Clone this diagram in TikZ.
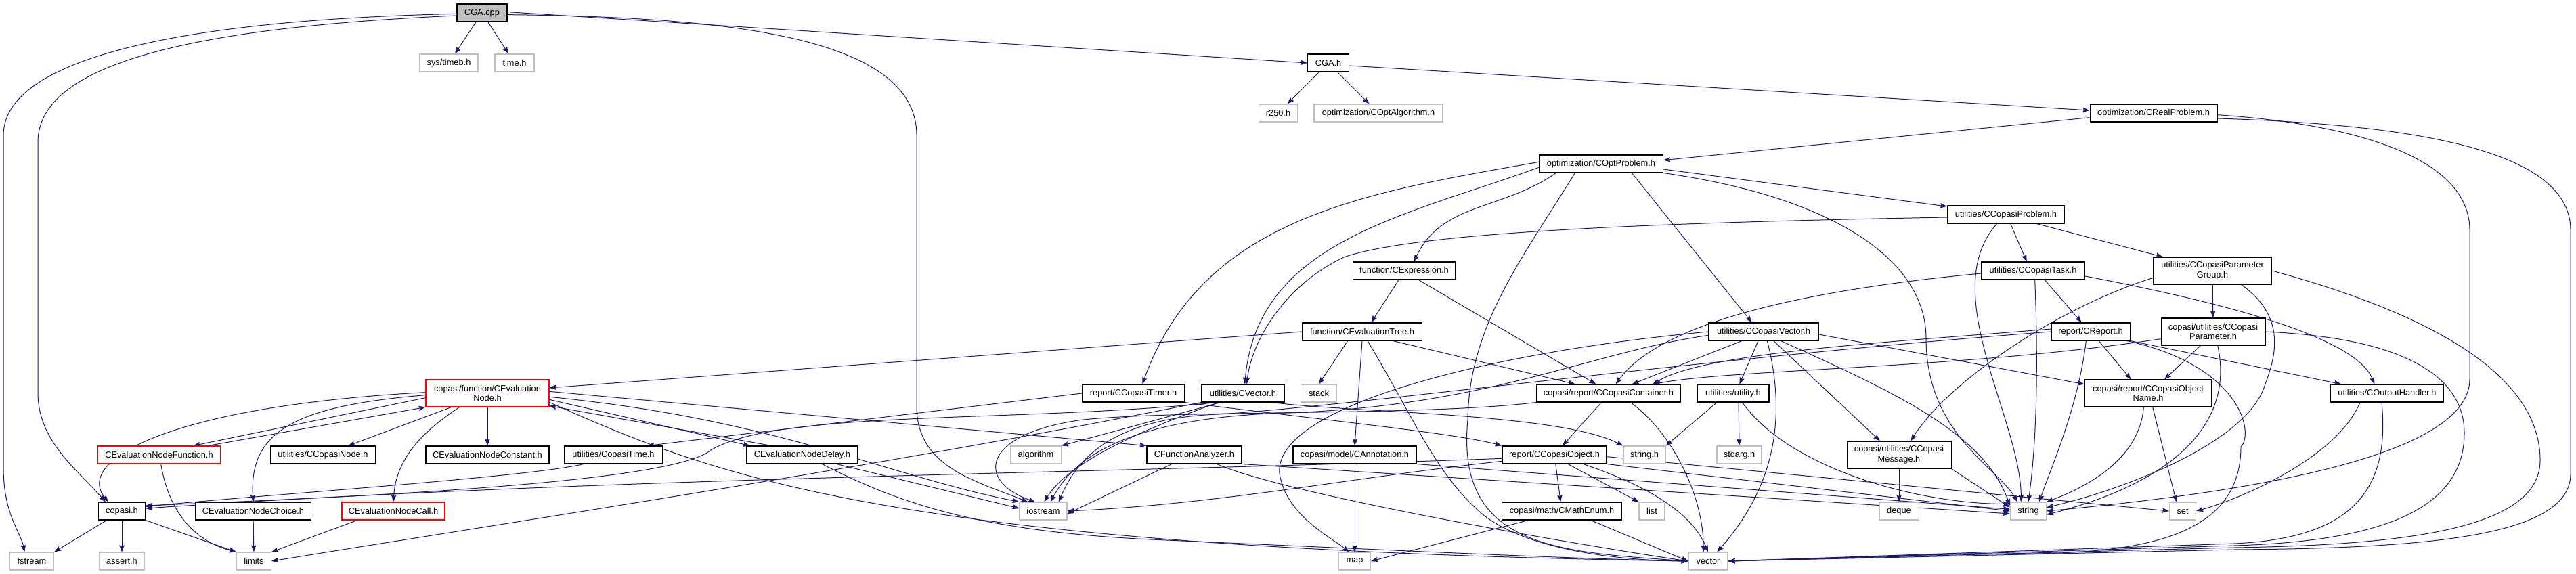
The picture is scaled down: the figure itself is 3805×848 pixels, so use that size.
\documentclass[tikz,border=0pt]{standalone}
\usepackage{fontspec}
\setmainfont{Liberation Sans}
\usepackage{xcolor}
\usepackage{tikz}
\usetikzlibrary{arrows.meta, backgrounds}
\definecolor{edgeBlue}{RGB}{25, 25, 112}
\definecolor{sysGray}{RGB}{191, 191, 191}
\tikzset{
  filenode/.style={
    rectangle, draw=black, fill=white, line width=0.8pt,
    minimum height=19.5pt, inner xsep=1pt, inner ysep=1.5pt,
    align=center, font=\fontsize{9.6}{11}\selectfont
  },
  sysnode/.style={filenode, draw=sysGray},
  rednode/.style={filenode, draw=red},
  mainnode/.style={filenode, fill=sysGray},
  twoline/.style={minimum height=30pt},
  bw/.style={minimum width=#1*0.75pt},
  dep/.style={
    -{Stealth[length=7.5pt,width=5.5pt,inset=1pt]},
    line width=0.75pt, color=edgeBlue
  }
}

\begin{document}
\begin{tikzpicture}[x=0.75pt, y=-0.75pt]

  \useasboundingbox (0,0) rectangle (3805,848);

  % top rows
  \node[mainnode, bw=74] (cgacpp) at (712,19) {CGA.cpp};
  \node[sysnode, bw=86] (timeb) at (663,93) {sys/timeb.h};
  \node[sysnode, bw=58] (timeh) at (760,93) {time.h};
  \node[filenode, bw=61] (cgah) at (1962,93) {CGA.h};
  \node[sysnode, bw=57] (r250) at (1888,167) {r250.h};
  \node[sysnode, bw=190] (optalg) at (2036,167) {optimization/COptAlgorithm.h};
  \node[filenode, bw=188] (realprob) at (3181,167) {optimization/CRealProblem.h};
  \node[filenode, bw=183] (optprob) at (2365,242) {optimization/COptProblem.h};
  \node[filenode, bw=173] (cprob) at (2963,317) {utilities/CCopasiProblem.h};
  \node[filenode, bw=151] (expr) at (2074,400) {function/CExpression.h};
  \node[filenode, bw=153] (ctask) at (3003,400) {utilities/CCopasiTask.h};
  \node[filenode, bw=175, twoline] (pgroup) at (3268,400) {utilities/CCopasiParameter\\Group.h};
  \node[filenode, bw=177] (evaltree) at (2012,490) {function/CEvaluationTree.h};
  \node[filenode, bw=162] (cvec) at (2605,490) {utilities/CCopasiVector.h};
  \node[filenode, bw=116] (report) at (3088,490) {report/CReport.h};
  \node[filenode, bw=154, twoline] (param) at (3269,490) {copasi/utilities/CCopasi\\Parameter.h};

  % middle rows
  \node[rednode, bw=182, twoline] (evalnode) at (720,581) {copasi/function/CEvaluation\\Node.h};
  \node[filenode, bw=151] (timer) at (1674,581) {report/CCopasiTimer.h};
  \node[filenode, bw=123] (vectorh) at (1836,581) {utilities/CVector.h};
  \node[sysnode, bw=53] (stack) at (1948,581) {stack};
  \node[filenode, bw=213] (container) at (2376,581) {copasi/report/CCopasiContainer.h};
  \node[filenode, bw=106] (utility) at (2560,581) {utilities/utility.h};
  \node[filenode, bw=187, twoline] (objname) at (3173,581) {copasi/report/CCopasiObject\\Name.h};
  \node[filenode, bw=167] (outhandler) at (3526,581) {utilities/COutputHandler.h};
  \node[rednode, bw=181] (nfunc) at (235,672) {CEvaluationNodeFunction.h};
  \node[filenode, bw=155] (cnode) at (477,672) {utilities/CCopasiNode.h};
  \node[filenode, bw=182] (nconst) at (720,672) {CEvaluationNodeConstant.h};
  \node[filenode, bw=145] (ctime) at (906,672) {utilities/CopasiTime.h};
  \node[filenode, bw=164] (ndelay) at (1185,672) {CEvaluationNodeDelay.h};
  \node[sysnode, bw=75] (algo) at (1530,672) {algorithm};
  \node[filenode, bw=140] (fanalyzer) at (1764,672) {CFunctionAnalyzer.h};
  \node[filenode, bw=182] (annot) at (2001,672) {copasi/model/CAnnotation.h};
  \node[filenode, bw=154] (cobject) at (2296,672) {report/CCopasiObject.h};
  \node[sysnode, bw=62] (stringh) at (2429,672) {string.h};
  \node[sysnode, bw=66] (stdarg) at (2569,672) {stdarg.h};
  \node[filenode, bw=154, twoline] (message) at (2805,672) {copasi/utilities/CCopasi\\Message.h};

  % bottom rows
  \node[filenode, bw=69] (copasih) at (180,755) {copasi.h};
  \node[filenode, bw=171] (nchoice) at (374,755) {CEvaluationNodeChoice.h};
  \node[rednode, bw=152] (ncall) at (581,755) {CEvaluationNodeCall.h};
  \node[sysnode, bw=70] (iostream) at (1541,755) {iostream};
  \node[filenode, bw=177] (mathenum) at (2307,755) {copasi/math/CMathEnum.h};
  \node[sysnode, bw=38] (list) at (2440,755) {list};
  \node[sysnode, bw=58] (deque) at (2805,755) {deque};
  \node[sysnode, bw=53] (string) at (2996,755) {string};
  \node[sysnode, bw=39] (set) at (3224,755) {set};
  \node[sysnode, bw=65] (fstream) at (47,829) {fstream};
  \node[sysnode, bw=67] (asserth) at (180,829) {assert.h};
  \node[sysnode, bw=51] (limits) at (375,829) {limits};
  \node[sysnode, bw=47] (map) at (2001,829) {map};
  \node[sysnode, bw=58] (vector) at (2523,829) {vector};

  \begin{scope}[on background layer]
  % CGA.cpp
  \draw[dep] (cgacpp) -- (timeb);
  \draw[dep] (cgacpp) -- (timeh);
  \draw[dep] ([yshift=-1pt]cgacpp.west) .. controls (250,30) and (5,90) .. (5,200) -- (5,690)
    .. controls (5,760) and (30,785) .. ([xshift=-8pt]fstream.north);
  \draw[dep] ([yshift=-3pt]cgacpp.west) .. controls (300,40) and (56,90) .. (56,210) -- (56,580)
    .. controls (56,650) and (110,690) .. ([xshift=-18pt]copasih.north);
  \draw[dep] ([yshift=-2pt]cgacpp.east) .. controls (1100,25) and (1354,60) .. (1354,200) -- (1354,600)
    .. controls (1354,690) and (1440,710) .. ([xshift=-17pt]iostream.north);
  \draw[dep] ([yshift=1pt]cgacpp.east) -- (cgah.west);

  % CGA.h
  \draw[dep] (cgah) -- (r250);
  \draw[dep] (cgah) -- (optalg);
  \draw[dep] ([yshift=-3pt]cgah.east) -- ([yshift=3pt]realprob.west);

  % CRealProblem.h
  \draw[dep] ([yshift=-5pt]realprob.west) -- ([yshift=4pt]optprob.east);
  \draw[dep] ([yshift=-2pt]realprob.east) .. controls (3500,185) and (3648,240) .. (3648,340) -- (3648,560)
    .. controls (3648,660) and (3400,720) .. (string.east);
  \draw[dep] ([yshift=-6pt]realprob.east) .. controls (3600,185) and (3797,230) .. (3797,340) -- (3797,700)
    .. controls (3797,790) and (3600,810) .. (3300,812) -- (vector.east);

  % COptProblem.h
  \draw[dep] ([yshift=2pt]optprob.west) to[out=190,in=70] ([xshift=10pt]timer.north);
  \draw[dep] ([yshift=-4pt]optprob.west) to[out=200,in=85] ([xshift=2pt]vectorh.north);
  \draw[dep] ([xshift=-50pt]optprob.south) to[out=215,in=65] ([xshift=11pt]expr.north);
  \draw[dep] ([xshift=-29pt]optprob.south) .. controls (2250,380) and (2170,480) .. (2168,620)
    .. controls (2150,810) and (2300,815) .. (vector.west);
  \draw[dep] ([xshift=34pt]optprob.south) -- ([xshift=-13pt]cvec.north);
  \draw[dep] ([yshift=-6pt]optprob.east) -- ([yshift=9pt]cprob.west);
  \draw[dep] (optprob.south east) .. controls (2700,290) and (2845,380) .. (2845,500)
    .. controls (2845,640) and (2950,690) .. ([xshift=-12pt]string.north);

  % CCopasiProblem.h
  \draw[dep] ([yshift=-3pt]cprob.west) .. controls (2500,328) and (2100,340) .. (1985,380)
    .. controls (1900,420) and (1850,500) .. ([xshift=4pt]vectorh.north);
  \draw[dep] ([xshift=5pt]cprob.south) -- ([xshift=-7pt]ctask.north);
  \draw[dep] ([xshift=34pt]cprob.south) -- ([xshift=-55pt]pgroup.north);
  \draw[dep] ([xshift=-10pt]cprob.south) .. controls (2860,430) and (2985,620) .. ([xshift=-8pt]string.north);

  % CCopasiTask.h
  \draw[dep] ([yshift=-3pt]ctask.west) .. controls (2650,430) and (2450,480) .. ([xshift=8pt]container.north);
  \draw[dep] ([xshift=13pt]ctask.south) -- ([xshift=-10pt]report.north);
  \draw[dep] ([xshift=2pt]ctask.south) .. controls (3010,520) and (3010,640) .. (string.north);
  \draw[dep] ([yshift=-6pt]ctask.east) .. controls (3300,450) and (3480,500) .. ([xshift=-14pt]outhandler.north);

  % CCopasiParameterGroup.h
  \draw[dep] (pgroup) -- (param);
  \draw[dep] ([yshift=-8pt]pgroup.west) .. controls (3050,450) and (2880,560) .. ([xshift=13pt]message.north);
  \draw[dep] ([xshift=32pt]pgroup.south) .. controls (3380,470) and (3360,530) .. (3345,570)
    .. controls (3320,650) and (3150,720) .. ([yshift=4pt]string.east);
  \draw[dep] (pgroup.east) .. controls (3650,480) and (3752,580) .. (3752,680)
    .. controls (3752,780) and (3560,805) .. (3300,809) -- (vector.east);

  % CReport.h
  \draw[dep] ([yshift=3pt]report.west) .. controls (2800,505) and (2520,520) .. ([xshift=49pt]container.north);
  \draw[dep] (report.west) .. controls (2500,530) and (2000,600) .. (1800,612)
    .. controls (1640,618) and (1590,680) .. ([xshift=17pt]iostream.north);
  \draw[dep] ([xshift=9pt]report.south) -- ([xshift=-19pt]objname.north);
  \draw[dep] ([xshift=-5pt]report.south) .. controls (3070,600) and (3030,690) .. ([xshift=12pt]string.north);
  \draw[dep] (report.south east) -- ([xshift=12pt]outhandler.north west);
  \draw[dep] ([xshift=40pt]report.south) .. controls (3310,540) and (3330,640) .. (3310,660)
    .. controls (3310,820) and (3100,820) .. (2900,818) -- (vector.east);

  % CCopasiParameter.h
  \draw[dep] ([xshift=-14pt]param.south) -- ([xshift=18pt]objname.north);
  \draw[dep] ([yshift=-8pt]param.west) .. controls (2900,545) and (2560,545) .. ([xshift=50pt]container.north);
  \draw[dep] ([xshift=5pt]param.south) .. controls (3300,620) and (3220,710) .. ([yshift=-4pt]string.east);
  \draw[dep] (param.east) .. controls (3560,500) and (3640,560) .. (3640,640)
    .. controls (3640,760) and (3500,800) .. (3300,806) -- (vector.east);

  % CCopasiVector.h
  \draw[dep] ([xshift=-24pt]cvec.south) -- ([xshift=26pt]container.north);
  \draw[dep] ([xshift=-6pt]cvec.south) -- ([xshift=7pt]utility.north);
  \draw[dep] ([xshift=11pt]cvec.south) -- ([xshift=-21pt]message.north);
  \draw[dep] ([xshift=19pt]cvec.south) .. controls (2800,580) and (2930,640) .. ([yshift=6pt]string.west);
  \draw[dep] ([xshift=4pt]cvec.south) .. controls (2640,620) and (2620,720) .. ([xshift=10pt]vector.north);
  \draw[dep] ([yshift=-3pt]cvec.east) -- ([yshift=10pt]objname.west);
  \draw[dep] ([yshift=-4pt]cvec.west) .. controls (2350,520) and (2200,600) .. (1900,610)
    .. controls (1640,618) and (1580,690) .. ([xshift=8pt]iostream.north);
  \draw[dep] (cvec.west) .. controls (2200,520) and (1880,600) .. (1890,700)
    .. controls (1900,760) and (1960,790) .. ([xshift=-6pt]map.north);

  % CExpression.h, CEvaluationTree.h
  \draw[dep] ([xshift=-6pt]expr.south) -- ([xshift=10pt]evaltree.north);
  \draw[dep] ([xshift=16pt]expr.south) -- ([xshift=-14pt]container.north);
  \draw[dep] (evaltree.west) -- ([yshift=6pt]evalnode.east);
  \draw[dep] ([xshift=-16pt]evaltree.south) -- (stack.north);
  \draw[dep] (evaltree.south) -- (annot.north);
  \draw[dep] ([xshift=6pt]evaltree.south) .. controls (2090,620) and (2120,700) .. (2190,760)
    .. controls (2260,815) and (2400,828) .. (vector.west);
  \draw[dep] ([xshift=34pt]evaltree.south) -- ([xshift=-37pt]container.north);

  % CEvaluationNode.h
  \draw[dep] ([yshift=-5pt]evalnode.west) -- ([xshift=38pt]nfunc.north);
  \draw[dep] ([xshift=54pt]nfunc.north) -- (evalnode.south west);
  \draw[dep] ([xshift=-40pt]evalnode.south) -- ([xshift=28pt]cnode.north);
  \draw[dep] (evalnode) -- (nconst);
  \draw[dep] ([yshift=-2pt]evalnode.west) .. controls (430,600) and (368,640) .. (nchoice.north);
  \draw[dep] ([xshift=-31pt]evalnode.south) .. controls (620,640) and (585,680) .. (ncall.north);
  \draw[dep] ([yshift=1pt]evalnode.west) .. controls (250,600) and (110,680) .. ([xshift=-15pt]copasih.north);
  \draw[dep] ([yshift=-4pt]evalnode.east) .. controls (1150,620) and (1300,700) .. (iostream.north west);
  \draw[dep] ([yshift=-7pt]evalnode.east) -- ([xshift=-58pt]ndelay.north);
  \draw[dep] ([xshift=-34pt]ndelay.north) -- ([yshift=-14pt]evalnode.east);
  \draw[dep] ([yshift=2pt]evalnode.east) -- (fanalyzer.north west);
  \draw[dep] ([yshift=-10pt]evalnode.east) .. controls (1050,700) and (1300,810) .. (vector.west);

  % node headers
  \draw[dep] ([xshift=38pt]ndelay.south) -- ([yshift=3pt]iostream.west);
  \draw[dep] ([xshift=22pt]ndelay.south) .. controls (1330,745) and (1450,785) .. (1700,797)
    .. controls (2000,810) and (2300,825) .. (vector.west);
  \draw[dep] ([xshift=2pt]nfunc.south) .. controls (250,760) and (290,800) .. (limits.north west);
  \draw[dep] ([xshift=-33pt]ctime.south) .. controls (780,705) and (400,730) .. ([yshift=5pt]copasih.east);
  \draw[dep] (timer.west) -- ([xshift=-17pt]ctime.north east);
  \draw[dep] (timer.south east) .. controls (1950,620) and (2150,640) .. (cobject.north west);

  % CVector.h
  \draw[dep] ([xshift=-25pt]vectorh.south) -- (algo.north east);
  \draw[dep] ([xshift=-27pt]vectorh.south) .. controls (1700,630) and (1580,680) .. ([xshift=1pt]iostream.north);
  \draw[dep] ([xshift=-29pt]vectorh.south) .. controls (1500,625) and (1150,605) .. (1050,665)
    .. controls (990,715) and (500,735) .. ([yshift=6pt]copasih.east);
  \draw[dep] (vectorh.south west) .. controls (1300,690) and (700,780) .. (limits.east);
  \draw[dep] ([xshift=32pt]vectorh.south) .. controls (2000,610) and (2300,610) .. (stringh.north west);

  % CFunctionAnalyzer.h
  \draw[dep] ([xshift=-25pt]fanalyzer.south) -- ([yshift=-3pt]iostream.east);
  \draw[dep] (fanalyzer.south east) -- ([yshift=-3pt]string.west);
  \draw[dep] ([xshift=25pt]fanalyzer.south) .. controls (1900,730) and (2300,800) .. (vector.west);

  % CCopasiContainer.h, utility.h
  \draw[dep] ([xshift=-8pt]container.south) -- ([xshift=9pt]cobject.north);
  \draw[dep] ([xshift=24pt]container.south) .. controls (2460,630) and (2515,720) .. ([xshift=-5pt]vector.north);
  \draw[dep] (container.south west) .. controls (2100,615) and (1750,605) .. (1600,620)
    .. controls (1450,640) and (1440,710) .. ([xshift=-9pt]iostream.north);
  \draw[dep] ([xshift=-18pt]utility.south) -- (stringh.north east);
  \draw[dep] ([xshift=6pt]utility.south) -- (stdarg.north);
  \draw[dep] ([xshift=10pt]utility.south) .. controls (2650,700) and (2850,745) .. ([yshift=8pt]string.west);

  % CCopasiObject.h
  \draw[dep] (cobject) -- (mathenum);
  \draw[dep] ([xshift=15pt]cobject.south) -- (list.north west);
  \draw[dep] ([xshift=32pt]cobject.south) .. controls (2440,720) and (2500,760) .. (vector.north);
  \draw[dep] ([yshift=-4pt]cobject.west) .. controls (1600,700) and (900,705) .. ([yshift=3pt]copasih.east);
  \draw[dep] ([yshift=-7pt]cobject.west) .. controls (2000,705) and (1800,745) .. (iostream.east);
  \draw[dep] (cobject.south east) -- (string.west);
  \draw[dep] ([yshift=-2pt]cobject.east) -- (set.west);

  % remaining headers
  \draw[dep] (message) -- (deque);
  \draw[dep] (message.south east) -- ([yshift=4pt]string.west);
  \draw[dep] (annot) -- (map);
  \draw[dep] (annot.south east) -- ([yshift=2pt]string.west);
  \draw[dep] ([xshift=-37pt]mathenum.south) -- (map.east);
  \draw[dep] ([xshift=32pt]mathenum.south) -- (vector.west);
  \draw[dep] ([xshift=-5pt]objname.south) .. controls (3160,680) and (3080,720) .. (string.north east);
  \draw[dep] ([xshift=5pt]objname.south) -- ([xshift=-7pt]set.north);
  \draw[dep] ([xshift=-30pt]outhandler.south) .. controls (3450,680) and (3300,740) .. (set.east);
  \draw[dep] ([xshift=-6pt]outhandler.south) .. controls (3530,720) and (3480,795) .. (3300,803) -- (vector.east);
  \draw[dep] (copasih) -- (fstream.north east);
  \draw[dep] (copasih) -- (asserth);
  \draw[dep] (copasih.south east) -- (limits.north west);
  \draw[dep] (nchoice) -- (limits);
  \draw[dep] ([xshift=-40pt]ncall.south) -- (limits.north east);
  \end{scope}

\end{tikzpicture}
\end{document}
